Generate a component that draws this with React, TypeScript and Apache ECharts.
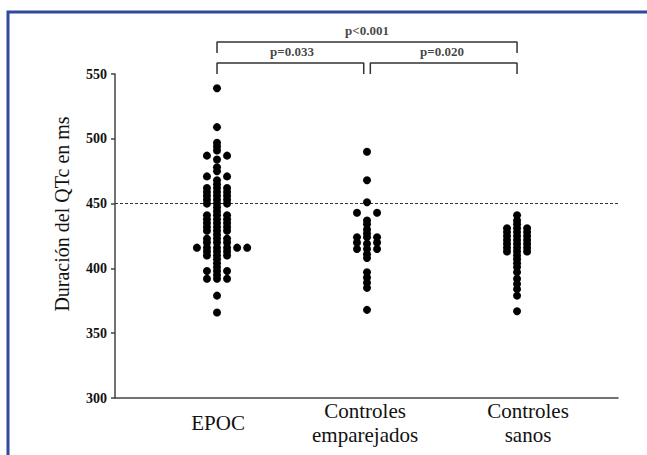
import React, { useEffect, useRef } from 'react';
import * as echarts from 'echarts';

// ---- Data ----
const categories = ['EPOC', 'Controles\nemparejados', 'Controles\nsanos'];

const epocValues = [
  539, 509, 497, 494, 491, 487, 487, 484, 478, 475, 471, 471, 468, 465,
  462, 462, 462, 459, 459, 459, 456, 456, 456, 453, 453, 453, 450, 450, 450,
  447, 444, 441, 441, 441, 438, 438, 438, 435, 435, 435, 432, 432, 432,
  429, 429, 429, 426, 423, 423, 423, 420, 420, 420,
  416, 416, 416, 416, 416, 416, 413, 413, 413, 410, 410, 410,
  407, 404, 401, 398, 398, 398, 395, 392, 392, 392, 379, 366,
];

const emparejadosValues = [
  490, 468, 451, 443, 443, 437, 434, 430, 427, 424, 424, 424, 420, 420,
  419, 415, 415, 415, 411, 408, 397, 393, 389, 385, 368,
];

const sanosValues = [
  441, 437, 434, 431, 431, 431, 428, 428, 428, 425, 425, 425, 422, 422, 422,
  419, 419, 419, 416, 416, 416, 413, 413, 413, 410, 407, 404, 401, 397, 392,
  388, 384, 379, 367,
];

const groupValues = [epocValues, emparejadosValues, sanosValues];

const yMin = 300;
const yMax = 550;
const yInterval = 50;
const referenceValue = 450;

const pLabels = ['p<0.001', 'p=0.033', 'p=0.020'];
const pPairs = [
  [0, 2],
  [0, 1],
  [1, 2],
];
const bracketLevels = [574.7, 558.5];

// ---- Layout helpers ----
const COL_STEP = 0.067; // horizontal spacing between dot columns (x units)
const BRACKET_GAP = 0.022;
const LEG = 8.5;
const TEXT_ABOVE = 8.5;
const FONT = "'Liberation Serif', 'Times New Roman', serif";

function layoutGroup(values: number[], gi: number): number[][] {
  const counts = new Map<number, number>();
  values.forEach((v) => counts.set(v, (counts.get(v) || 0) + 1));
  const seen = new Map<number, number>();
  return values.map((v) => {
    const n = counts.get(v) || 1;
    const k = seen.get(v) || 0;
    seen.set(v, k + 1);
    const order = n === 2 ? [-1, 1] : [0, -1, 1, -2, 2, 3, -3, 4];
    return [gi + 1 + order[k] * COL_STEP, v];
  });
}

export default function App() {
  const ref = useRef<HTMLDivElement>(null);

  useEffect(() => {
    if (!ref.current) return;
    const chart = echarts.init(ref.current, undefined, { renderer: 'svg' });

    const dotSeries = groupValues.map((vals, gi) => ({
      type: 'scatter',
      name: categories[gi],
      data: layoutGroup(vals, gi),
      symbol: 'circle',
      symbolSize: 8,
      itemStyle: { color: '#000', opacity: 1 },
      silent: true,
      z: 5,
    }));

    const bracketSeries = pPairs.map(([a, b], i) => {
      const adjacent = b - a === 1;
      const level = adjacent ? bracketLevels[1] : bracketLevels[0];
      const x1 = a + 1 + (adjacent && a > 0 ? BRACKET_GAP : 0);
      const x2 = b + 1 - (adjacent && b < 2 ? BRACKET_GAP : 0);
      return {
        type: 'line',
        name: 'bracket' + i,
        data: [
          [x1, level - LEG],
          [x1, level],
          [x2, level],
          [x2, level - LEG],
        ],
        symbol: 'none',
        clip: false,
        silent: true,
        lineStyle: { color: '#333', width: 1.5 },
        z: 4,
      };
    });

    const pTextData = pPairs.map(([a, b], i) => {
      const adjacent = b - a === 1;
      const level = adjacent ? bracketLevels[1] : bracketLevels[0];
      return [(a + b) / 2 + 1, level + TEXT_ABOVE, pLabels[i]];
    });

    const option: any = {
      animation: false,
      backgroundColor: '#fff',
      grid: { left: 115, right: 29, top: 74, bottom: 57, outerBoundsMode: 'none' },
      graphic: [
        {
          type: 'rect',
          shape: { x: 8, y: 12, width: 700, height: 500 },
          style: { fill: 'none', stroke: '#2e4a9b', lineWidth: 3 },
          silent: true,
          z: 100,
        },
      ],
      xAxis: {
        type: 'value',
        min: 0.32,
        max: 3.673,
        splitLine: { show: false },
        axisTick: { show: false },
        axisLine: { show: true, onZero: false, lineStyle: { color: '#444', width: 1.5 } },
        axisLabel: {
          customValues: [1.007, 1.987, 3.073],
          formatter: (v: number) => categories[Math.max(0, Math.min(2, Math.round(v) - 1))],
          fontFamily: FONT,
          fontSize: 21,
          lineHeight: 24,
          color: '#111',
          verticalAlign: 'middle',
          margin: 25,
        },
      },
      yAxis: {
        type: 'value',
        min: yMin,
        max: yMax,
        interval: yInterval,
        splitLine: { show: false },
        axisLine: { show: true, lineStyle: { color: '#444', width: 1.5 } },
        axisTick: { show: true, length: 4, lineStyle: { color: '#444', width: 1.5 } },
        axisLabel: {
          fontFamily: FONT,
          fontSize: 14,
          fontWeight: 'bold',
          color: '#111',
          margin: 8,
        },
        name: 'Duración del QTc en ms',
        nameLocation: 'middle',
        nameGap: 43,
        nameTextStyle: {
          fontFamily: FONT,
          fontSize: 20,
          color: '#111',
          padding: [0, 0, 0, 44],
        },
      },
      series: [
        ...dotSeries,
        ...bracketSeries,
        {
          type: 'line',
          name: 'ref',
          data: [],
          silent: true,
          markLine: {
            silent: true,
            symbol: ['none', 'none'],
            label: { show: false },
            lineStyle: { color: '#333', width: 1, type: [3, 2] },
            data: [{ yAxis: referenceValue }],
          },
        },
        {
          type: 'scatter',
          name: 'pvalues',
          data: pTextData,
          symbol: 'circle',
          symbolSize: 1,
          clip: false,
          silent: true,
          itemStyle: { color: 'rgba(0,0,0,0)' },
          label: {
            show: true,
            position: 'inside',
            formatter: (p: any) => p.data[2],
            fontFamily: FONT,
            fontSize: 13,
            fontWeight: 'bold',
            color: '#111',
          },
        },
      ],
    };

    chart.setOption(option);
    return () => chart.dispose();
  }, []);

  return (
    <div
      ref={ref}
      style={{ position: 'fixed', left: 0, top: 0, width: 647, height: 455, background: '#fff' }}
    />
  );
}
